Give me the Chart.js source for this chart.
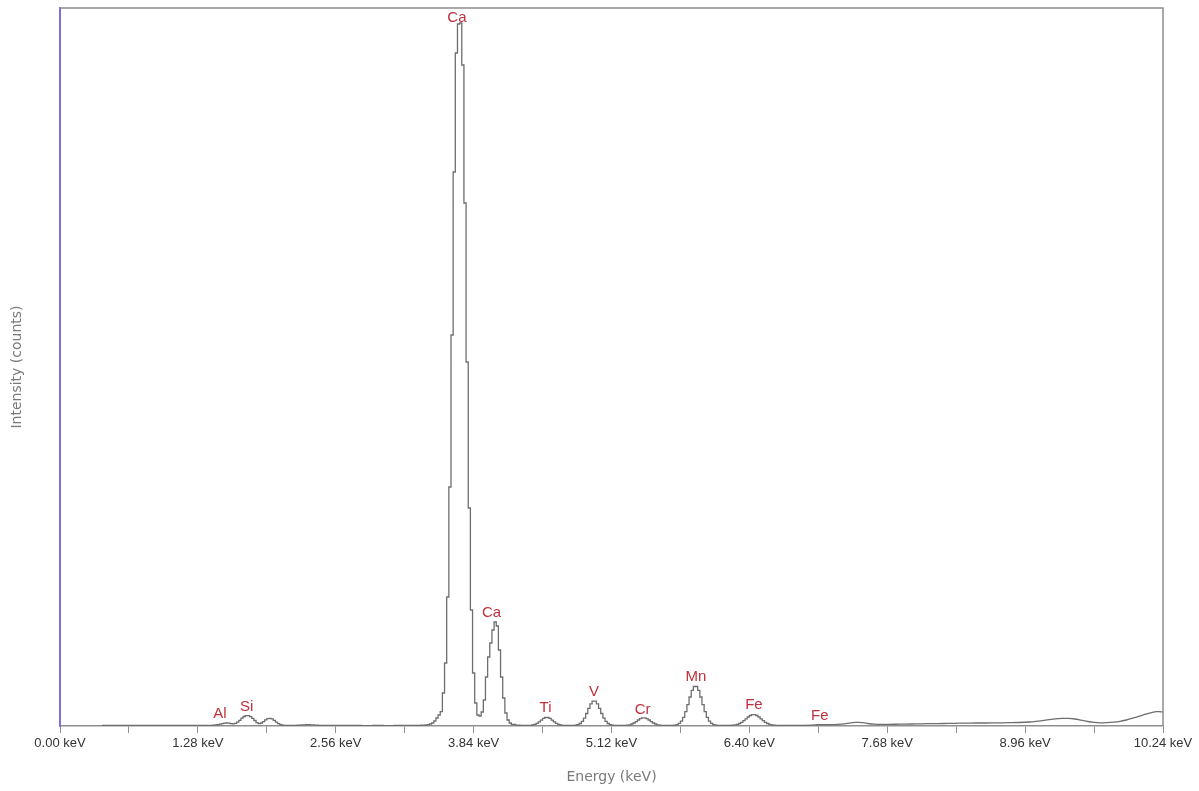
<!DOCTYPE html>
<html>
<head>
<meta charset="utf-8">
<script src="https://cdn.jsdelivr.net/npm/chart.js@4.4.1/dist/chart.umd.min.js"></script>
<style>
  html, body { margin: 0; padding: 0; background: #ffffff; }
  #wrap { width: 1199px; height: 791px; }
</style>
</head>
<body>
<div id="wrap"><canvas id="c" width="1199" height="791"></canvas></div>
<script>
// ---- Data ----
// X axis ticks (keV)
const tickValues = [0, 0.64, 1.28, 1.92, 2.56, 3.2, 3.84, 4.48, 5.12, 5.76, 6.4, 7.04, 7.68, 8.32, 8.96, 9.6, 10.24];
const tickLabels = ['0.00 keV', '', '1.28 keV', '', '2.56 keV', '', '3.84 keV', '', '5.12 keV', '', '6.40 keV', '', '7.68 keV', '', '8.96 keV', '', '10.24 keV'];

// Low-energy tail (smooth)
const lowTailEnergy = [0.39, 0.6, 0.8, 1.0, 1.2, 1.38];
const lowTailCounts = [5, 5, 6, 5, 6, 6];

// Channel data across the peak region (stepped histogram)
const peakEnergy = [
  1.38, 1.40, 1.42, 1.44, 1.46, 1.48, 1.50, 1.52, 1.54, 1.56, 1.58, 1.60, 1.62, 1.64, 1.66, 1.68, 1.70, 1.72, 1.74, 1.76,
  1.78, 1.80, 1.82, 1.84, 1.86, 1.88, 1.90, 1.92, 1.94, 1.96, 1.98, 2.00, 2.02, 2.04, 2.06, 2.08, 2.10, 2.16, 2.20, 2.24,
  2.28, 2.32, 2.36, 2.40, 2.50, 2.60, 2.70, 2.80, 2.90, 3.00, 3.10, 3.20, 3.30, 3.35, 3.39, 3.41, 3.43, 3.45, 3.47, 3.49,
  3.51, 3.53, 3.55, 3.57, 3.59, 3.61, 3.63, 3.65, 3.67, 3.69, 3.71, 3.73, 3.75, 3.77, 3.79, 3.81, 3.83, 3.85, 3.87, 3.89,
  3.91, 3.93, 3.95, 3.97, 3.99, 4.01, 4.03, 4.05, 4.07, 4.09, 4.11, 4.13, 4.15, 4.17, 4.19, 4.23, 4.27, 4.31,
  4.36, 4.38, 4.40, 4.42, 4.44, 4.46, 4.48, 4.50, 4.52, 4.54, 4.56, 4.58, 4.60, 4.62, 4.64, 4.66, 4.68, 4.72,
  4.78, 4.80, 4.82, 4.84, 4.86, 4.88, 4.90, 4.92, 4.94, 4.96, 4.98, 5.00, 5.02, 5.04, 5.06, 5.08, 5.10, 5.12, 5.14, 5.19,
  5.24, 5.26, 5.28, 5.30, 5.32, 5.34, 5.36, 5.38, 5.40, 5.42, 5.44, 5.46, 5.48, 5.50, 5.52, 5.54, 5.56, 5.58, 5.60, 5.65,
  5.70, 5.72, 5.74, 5.76, 5.78, 5.80, 5.82, 5.84, 5.86, 5.88, 5.90, 5.92, 5.94, 5.96, 5.98, 6.00, 6.02, 6.04, 6.06, 6.08, 6.10, 6.16,
  6.22, 6.24, 6.26, 6.28, 6.30, 6.32, 6.34, 6.36, 6.38, 6.40, 6.42, 6.44, 6.46, 6.48, 6.50, 6.52, 6.54, 6.56, 6.58, 6.60, 6.62, 6.64, 6.66, 6.70
];
const peakCounts = [
  6, 6, 8, 10, 14, 19, 24, 28, 30, 28, 24, 22, 26, 38, 57, 78, 95, 103, 103, 94,
  76, 55, 34, 24, 30, 44, 62, 74, 77, 71, 56, 38, 23, 13, 8, 6, 5, 6, 8, 11,
  13, 11, 8, 6, 5, 6, 5, 4, 5, 4, 5, 5, 6, 8, 10, 14, 20, 30, 50, 80,
  110, 143, 330, 630, 1290, 2390, 3910, 5540, 6730, 7020, 7030, 6610, 5230, 3640, 2180, 1160, 530, 230, 110, 100,
  140, 260, 490, 690, 830, 960, 1040, 1000, 760, 490, 280, 130, 60, 30, 15, 8, 6, 5,
  7, 10, 16, 26, 41, 59, 76, 85, 85, 76, 59, 41, 26, 16, 10, 7, 5, 5,
  8, 14, 25, 46, 79, 125, 176, 222, 249, 249, 222, 176, 125, 79, 46, 25, 14, 8, 5, 5,
  6, 8, 12, 20, 30, 44, 60, 74, 82, 82, 74, 60, 44, 30, 20, 12, 8, 6, 5, 5,
  9, 14, 26, 49, 87, 143, 214, 290, 357, 395, 395, 357, 290, 214, 143, 87, 49, 26, 14, 9, 6, 5,
  6, 8, 11, 16, 25, 37, 53, 72, 90, 105, 114, 114, 105, 90, 72, 53, 37, 25, 16, 11, 8, 6, 5, 5
];

// High-energy tail (smooth)
const highTailEnergy = [6.70, 6.80, 6.90, 6.98, 7.02, 7.06, 7.10, 7.16, 7.22, 7.28, 7.34, 7.38, 7.42, 7.46, 7.50, 7.56, 7.62, 7.70, 7.80, 7.90,
  8.00, 8.10, 8.20, 8.30, 8.40, 8.50, 8.60, 8.70, 8.80, 8.90, 9.00, 9.06, 9.12, 9.18, 9.24, 9.30, 9.36, 9.42, 9.48, 9.54,
  9.60, 9.66, 9.72, 9.78, 9.84, 9.90, 9.96, 10.02, 10.08, 10.14, 10.18, 10.22, 10.24];
const highTailCounts = [5, 6, 7, 9, 12, 14, 13, 13, 16, 22, 32, 36, 37, 33, 25, 18, 16, 17, 18, 20,
  22, 24, 25, 27, 29, 30, 30, 31, 33, 35, 40, 46, 54, 63, 71, 76, 76, 70, 58, 45,
  36, 32, 33, 38, 46, 60, 78, 98, 118, 136, 144, 142, 142];

// Element labels
const peakNames = ['Al', 'Si', 'Ca', 'Ca', 'Ti', 'V', 'Cr', 'Mn', 'Fe', 'Fe'];
const peakLabelEnergy = [1.485, 1.733, 3.685, 4.007, 4.508, 4.957, 5.409, 5.904, 6.442, 7.054];
const peakLabelCounts = [30, 103, 7030, 1040, 87, 253, 70, 400, 117, 14];

const toPts = (xs, ys) => xs.map((x, i) => ({ x: x, y: ys[i] }));

const framePlugin = {
  id: 'frame',
  afterDraw(chart) {
    const { ctx, chartArea: a } = chart;
    ctx.save();
    ctx.strokeStyle = '#8f8f8f';
    ctx.lineWidth = 1.5;
    ctx.beginPath();
    ctx.moveTo(a.left, a.top);
    ctx.lineTo(a.right, a.top);
    ctx.lineTo(a.right, a.bottom);
    ctx.stroke();
    ctx.strokeStyle = '#7a72cc';
    ctx.lineWidth = 2;
    ctx.beginPath();
    ctx.moveTo(a.left, a.top);
    ctx.lineTo(a.left, a.bottom);
    ctx.stroke();
    ctx.restore();
  }
};

const labelPlugin = {
  id: 'peakLabels',
  afterDatasetsDraw(chart) {
    const { ctx, chartArea: a } = chart;
    const xs = chart.scales.x, ys = chart.scales.y;
    ctx.save();
    ctx.fillStyle = '#c0303c';
    ctx.font = '15px "Liberation Sans", Arial, sans-serif';
    ctx.textAlign = 'center';
    ctx.textBaseline = 'middle';
    peakNames.forEach((n, i) => {
      const px = xs.getPixelForValue(peakLabelEnergy[i]);
      let py = ys.getPixelForValue(peakLabelCounts[i]) - 9;
      if (py < a.top + 10) py = a.top + 10;
      ctx.fillText(n, px, py);
    });
    ctx.restore();
  }
};

const lineColor = '#6e6e6e';

new Chart(document.getElementById('c'), {
  type: 'line',
  data: {
    datasets: [
      { data: toPts(lowTailEnergy, lowTailCounts), borderColor: lineColor, borderWidth: 1.3, pointRadius: 0, tension: 0.3, fill: false },
      { data: toPts(peakEnergy, peakCounts), borderColor: lineColor, borderWidth: 1.3, pointRadius: 0, stepped: true, fill: false },
      { data: toPts(highTailEnergy, highTailCounts), borderColor: lineColor, borderWidth: 1.3, pointRadius: 0, tension: 0.3, fill: false }
    ]
  },
  options: {
    responsive: false,
    animation: false,
    devicePixelRatio: 1,
    layout: { padding: { top: 8, right: 36, left: 0, bottom: 0 } },
    plugins: { legend: { display: false }, tooltip: { enabled: false } },
    scales: {
      x: {
        type: 'linear',
        min: 0,
        max: 10.24,
        afterBuildTicks: (axis) => { axis.ticks = tickValues.map(v => ({ value: v })); },
        afterFit: (scale) => { scale.height = 65; },
        ticks: {
          autoSkip: false,
          maxRotation: 0,
          padding: 3,
          color: '#333333',
          font: { family: '"Liberation Sans", Arial, sans-serif', size: 13 },
          callback: (value, index) => tickLabels[index]
        },
        grid: { drawOnChartArea: false, drawTicks: true, tickLength: 7, tickColor: '#8f8f8f', color: '#8f8f8f' },
        border: { display: true, color: '#8f8f8f', width: 1.5 },
        title: {
          display: true,
          text: 'Energy (keV)',
          color: '#7a7a7a',
          font: { family: '"DejaVu Sans", Verdana, sans-serif', size: 14 },
          padding: { top: 0, bottom: 5 }
        }
      },
      y: {
        type: 'linear',
        min: 0,
        max: 7180,
        afterFit: (scale) => { scale.width = 60; },
        ticks: { display: false },
        grid: { display: false },
        border: { display: true, color: '#7a72cc', width: 2 },
        title: {
          display: true,
          text: 'Intensity (counts)',
          color: '#7a7a7a',
          font: { family: '"DejaVu Sans", Verdana, sans-serif', size: 14 },
          padding: { top: 9, bottom: 0 }
        }
      }
    }
  },
  plugins: [framePlugin, labelPlugin]
});
</script>
</body>
</html>
